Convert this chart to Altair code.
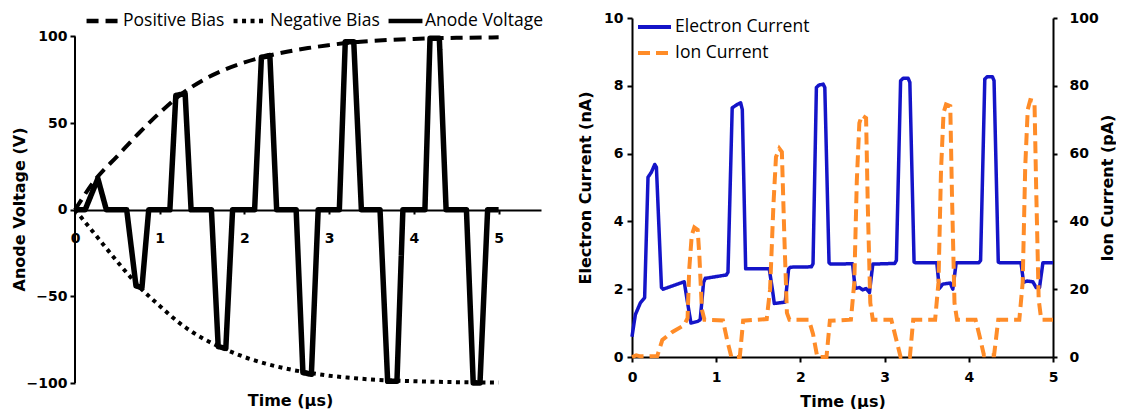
import altair as alt
import pandas as pd

# ---------------- left panel data ----------------
bias_time = [0, 0.25, 0.5, 0.75, 1.0, 1.25, 1.5, 1.75, 2.0, 2.25, 2.5, 2.75, 3.0, 3.25, 3.5, 4.0, 4.5, 5.0]
positive_bias = [0, 18, 31, 44, 56, 66.5, 74.5, 80.5, 85, 88.5, 91.2, 93.3, 95, 96.5, 97.4, 98.6, 99.2, 99.5]
negative_bias = [0, -15, -30, -44, -55.5, -66, -74, -80, -85, -88.8, -91.8, -94, -95.8, -97, -98, -99, -99.5, -99.7]

anode_time = [0, 0.12, 0.27, 0.37, 0.61, 0.72, 0.79, 0.87,
              1.12, 1.19, 1.30, 1.37, 1.61, 1.69, 1.78, 1.86,
              2.12, 2.20, 2.30, 2.38, 2.61, 2.69, 2.79, 2.87,
              3.12, 3.19, 3.29, 3.38, 3.60, 3.69, 3.80, 3.87,
              4.13, 4.19, 4.30, 4.38, 4.62, 4.70, 4.78, 4.87, 5.0]
anode_voltage = [0, 0, 18, 0, 0, -44, -45, 0,
                 0, 66, 67, 0, 0, -79, -80, 0,
                 0, 88, 89, 0, 0, -94, -95, 0,
                 0, 97, 97, 0, 0, -99, -99, 0,
                 0, 99, 99, 0, 0, -100, -100, 0, 0]

left_series = ["Positive Bias", "Negative Bias", "Anode Voltage"]
left_x_ticks = [0, 1, 2, 3, 4, 5]
left_y_ticks = [-100, -50, 0, 50, 100]

# ---------------- right panel data ----------------
electron_time = [0.00, 0.04, 0.10, 0.15, 0.19, 0.23, 0.27, 0.29, 0.35, 0.37, 0.62,
                 0.66, 0.70, 0.78, 0.81, 0.85, 0.87, 1.12,
                 1.14, 1.19, 1.25, 1.29, 1.31, 1.35, 1.63,
                 1.67, 1.69, 1.82, 1.86, 1.88, 2.13,
                 2.15, 2.19, 2.22, 2.27, 2.29, 2.34, 2.36, 2.62,
                 2.65, 2.70, 2.74, 2.78, 2.82, 2.86, 3.12,
                 3.14, 3.19, 3.22, 3.28, 3.30, 3.35, 3.37, 3.62,
                 3.65, 3.69, 3.78, 3.81, 3.85, 4.12,
                 4.14, 4.19, 4.22, 4.28, 4.30, 4.35, 4.37, 4.62,
                 4.65, 4.69, 4.76, 4.80, 4.84, 4.88, 5.0]
electron_current = [0.6, 1.25, 1.6, 1.75, 5.3, 5.45, 5.68, 5.6, 2.05, 2.0, 2.22,
                    1.6, 1.0, 1.05, 1.1, 2.2, 2.32, 2.42,
                    2.5, 7.35, 7.45, 7.5, 7.3, 2.6, 2.6,
                    1.95, 1.58, 1.62, 2.6, 2.65, 2.66,
                    2.75, 7.95, 8.02, 8.05, 7.95, 2.78, 2.74, 2.75,
                    2.02, 2.05, 1.98, 2.02, 1.9, 2.74, 2.76,
                    2.85, 8.15, 8.22, 8.22, 8.1, 2.8, 2.78, 2.78,
                    2.02, 2.15, 2.18, 2.0, 2.78, 2.78,
                    2.85, 8.2, 8.27, 8.27, 8.15, 2.8, 2.78, 2.78,
                    2.2, 2.24, 2.22, 2.05, 2.05, 2.78, 2.78]

ion_time = [0, 0.05, 0.10, 0.30, 0.36, 0.48, 0.62, 0.66, 0.68, 0.71, 0.74, 0.78, 0.80, 0.83, 0.86,
            1.08, 1.13, 1.18, 1.28, 1.32, 1.60, 1.64, 1.68, 1.71, 1.75, 1.78, 1.81, 1.84, 1.87,
            2.10, 2.15, 2.20, 2.31, 2.35, 2.60, 2.64, 2.67, 2.70, 2.73, 2.78, 2.80, 2.83, 2.86,
            3.08, 3.13, 3.19, 3.30, 3.34, 3.60, 3.64, 3.67, 3.70, 3.73, 3.78, 3.80, 3.83, 3.86,
            4.08, 4.13, 4.18, 4.30, 4.35, 4.60, 4.64, 4.67, 4.70, 4.73, 4.78, 4.80, 4.83, 4.86, 5.0]
ion_current = [0, 0.5, 0.2, 0.3, 5.0, 7.4, 9.4, 11.5, 26, 36, 38.2, 37.5, 30, 14, 11,
               10.8, 5, 0, 0, 10.7, 11.2, 20, 45, 59, 61.5, 60.5, 35, 13, 11,
               11, 6.8, 0, 0, 10.7, 11, 22, 52, 69, 71.3, 70.5, 45, 16, 11,
               11, 6, 0, 0, 11, 11, 22, 55, 72, 74.5, 74, 48, 16, 11,
               11, 6, 0.5, 0.5, 11, 11, 22, 56, 73, 75.8, 75.5, 50, 17, 11, 11]

right_series = ["Electron Current", "Ion Current"]
right_x_ticks = [0, 1, 2, 3, 4, 5]
electron_ticks = [0, 2, 4, 6, 8, 10]
ion_ticks = [0, 20, 40, 60, 80, 100]

# ---------------- build tables ----------------
bias_df = pd.DataFrame(
    [{"t": t, "v": v, "series": left_series[0]} for t, v in zip(bias_time, positive_bias)]
    + [{"t": t, "v": v, "series": left_series[1]} for t, v in zip(bias_time, negative_bias)]
)
anode_df = pd.DataFrame({"t": anode_time, "v": anode_voltage, "series": left_series[2]})
yaxis_df = pd.DataFrame({"t": [0], "v": [min(left_y_ticks)], "v2": [max(left_y_ticks)]})

electron_df = pd.DataFrame({"t": electron_time, "v": electron_current, "series": right_series[0]})
ion_df = pd.DataFrame({"t": ion_time, "v": ion_current, "series": right_series[1]})

FONT = "DejaVu Sans"
LFONT = "Open Sans"

# ---------------- left panel ----------------
LW, LH = 466, 365
px_per_unit = 1.735
y_top = 100 + 18.5 / px_per_unit
axis_offset = -(LH - (y_top * px_per_unit))

x_left = alt.X(
    "t:Q",
    scale=alt.Scale(domain=[0, 5.5], nice=False, zero=False),
    axis=alt.Axis(
        values=left_x_ticks, format="d", offset=axis_offset, title="Time (μs)",
        titleX=215, titleY=190, titleBaseline="middle", titleAlign="center",
        labelAlign="center", labelBaseline="top", labelPadding=17, tickSize=4,
        grid=False,
    ),
)
y_left = alt.Y(
    "v:Q",
    scale=alt.Scale(domain=[-100, y_top], nice=False, zero=False),
    axis=alt.Axis(
        values=left_y_ticks, format="d", domain=False, title="Anode Voltage (V)",
        titleX=-56, titleY=191, titleAngle=270, titleAlign="center", titleBaseline="middle",
        tickSize=5, labelPadding=3, grid=False,
    ),
)
dash_left = alt.StrokeDash(
    "series:N",
    scale=alt.Scale(domain=left_series, range=[[12, 7], [4, 4.5], [1, 0]]),
    legend=alt.Legend(
        orient="none", direction="horizontal", legendX=9, legendY=-7, title=None,
        symbolType="stroke", symbolSize=1150, symbolStrokeWidth=4.5, symbolStrokeColor="black",
        clipHeight=20,
        labelFont=LFONT, labelFontSize=17.5, labelFontWeight="normal", labelColor="black",
        labelOffset=0, columnPadding=6, labelLimit=300,
    ),
)

bias_layer = alt.Chart(bias_df).mark_line(color="black", strokeWidth=4, interpolate="monotone", strokeCap="butt").encode(
    x=x_left, y=y_left, strokeDash=dash_left, detail="series:N"
)
anode_layer = alt.Chart(anode_df).mark_line(color="black", strokeWidth=5.5, strokeJoin="round").encode(
    x=x_left, y=y_left, strokeDash=dash_left
)
yaxis_layer = alt.Chart(yaxis_df).mark_rule(color="black", strokeWidth=2).encode(
    x="t:Q", y="v:Q", y2="v2:Q"
)
left = alt.layer(yaxis_layer, bias_layer, anode_layer).properties(width=LW, height=LH)

# ---------------- right panel ----------------
RW, RH = 421, 339
right_legend = alt.Legend(
    orient="none", direction="vertical", legendX=4, legendY=-1, title=None,
    symbolType="stroke", symbolSize=1089, symbolStrokeWidth=4, clipHeight=20,
    labelFont=LFONT, labelFontSize=17.5, labelFontWeight="normal", labelColor="black",
    labelOffset=2, rowPadding=6, labelLimit=300,
)
x_right = alt.X(
    "t:Q",
    scale=alt.Scale(domain=[0, 5], nice=False, zero=False),
    axis=alt.Axis(values=right_x_ticks, format="d", title="Time (μs)", tickSize=5, labelPadding=8,
                  labelAlign="center", grid=False, titlePadding=9),
)
color_right = alt.Color(
    "series:N",
    scale=alt.Scale(domain=right_series, range=["#1414c8", "#ff8c28"]),
    legend=right_legend,
)
dash_right = alt.StrokeDash(
    "series:N",
    scale=alt.Scale(domain=right_series, range=[[1, 0], [12, 6]]),
    legend=right_legend,
)

electron_layer = alt.Chart(electron_df).mark_line(strokeWidth=3.5, strokeJoin="round").encode(
    x=x_right,
    y=alt.Y("v:Q", scale=alt.Scale(domain=[0, 10], nice=False),
            axis=alt.Axis(values=electron_ticks, format="d", title="Electron Current (nA)", tickSize=5,
                          labelPadding=4, titlePadding=10, grid=False)),
    color=color_right, strokeDash=dash_right,
)
ion_layer = alt.Chart(ion_df).mark_line(strokeWidth=4, strokeCap="butt").encode(
    x=x_right,
    y=alt.Y("v:Q", scale=alt.Scale(domain=[0, 100], nice=False),
            axis=alt.Axis(values=ion_ticks, format="d", orient="right", title="Ion Current (pA)", tickSize=4,
                          labelPadding=12, titlePadding=17, titleAngle=270, grid=False)),
    color=color_right, strokeDash=dash_right,
)
right = alt.layer(electron_layer, ion_layer).resolve_scale(y="independent").properties(width=RW, height=RH)

chart = alt.hconcat(left, right, spacing=33).resolve_scale(
    strokeDash="independent", color="independent"
).resolve_legend(
    strokeDash="independent", color="independent"
).properties(
    padding={"left": 3, "top": 3, "right": 0, "bottom": 0}, background="white"
).configure_view(stroke=None).configure_axis(
    labelFont=FONT, labelFontSize=14, labelFontWeight="bold", labelColor="black",
    titleFont=FONT, titleFontSize=16, titleFontWeight="bold", titleColor="black",
    domainColor="black", domainWidth=2, tickColor="black", tickWidth=2,
)

chart.save("out.html", embed_options={"renderer": "svg", "actions": False})
